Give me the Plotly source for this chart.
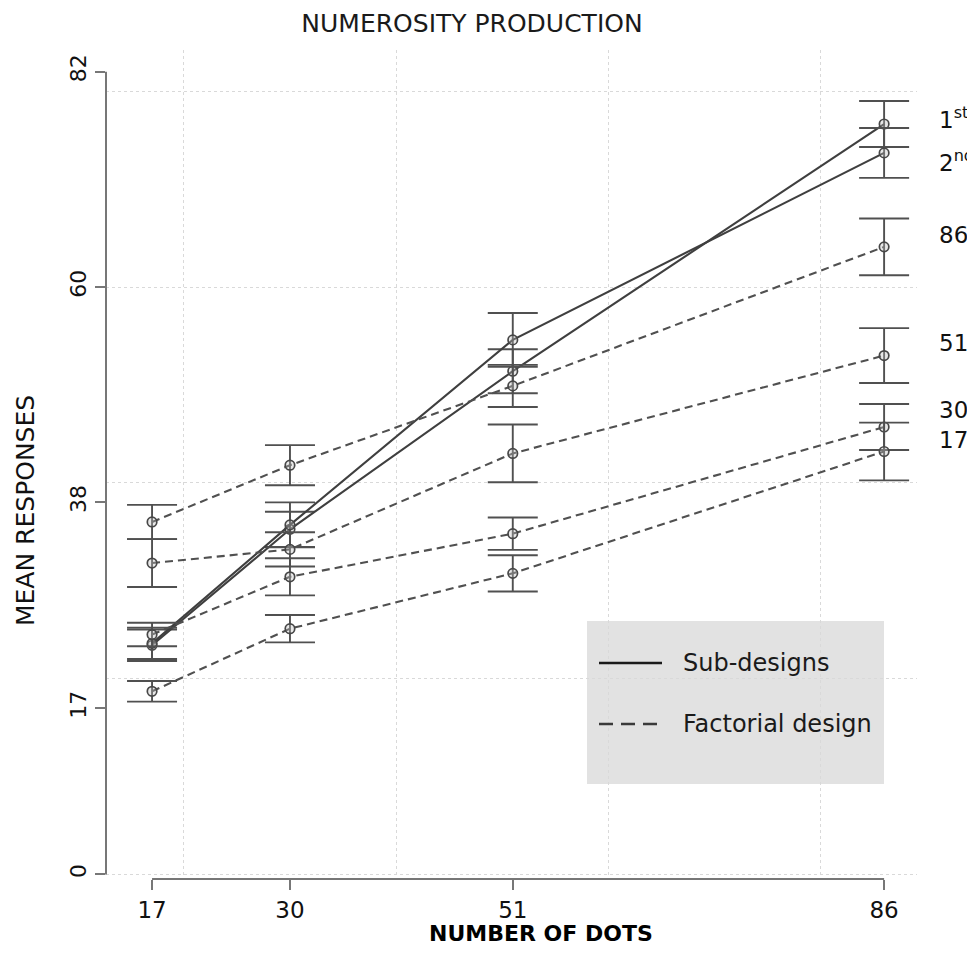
import plotly.graph_objects as go

# ---------------- data ----------------
x_dots = [17, 30, 51, 86]

series_names = ["1st", "2nd", "86", "51", "30", "17"]
series_kind = ["sub", "sub", "fact", "fact", "fact", "fact"]

sub_1st = [23.4, 35.25, 51.4, 76.65]
sub_1st_err = [1.6, 1.8, 2.25, 2.35]
sub_2nd = [23.6, 35.7, 54.6, 73.7]
sub_2nd_err = [1.6, 2.3, 2.75, 2.55]
fact_86 = [36.0, 41.8, 49.9, 64.1]
fact_86_err = [1.75, 2.05, 2.15, 2.9]
fact_51 = [31.8, 33.2, 43.0, 53.0]
fact_51_err = [2.45, 1.75, 2.95, 2.8]
fact_30 = [24.5, 30.4, 34.8, 45.7]
fact_30_err = [1.2, 1.9, 1.65, 2.35]
fact_17 = [18.7, 25.1, 30.75, 43.2]
fact_17_err = [1.05, 1.4, 1.85, 2.95]

series_values = [sub_1st, sub_2nd, fact_86, fact_51, fact_30, fact_17]
series_errors = [sub_1st_err, sub_2nd_err, fact_86_err, fact_51_err, fact_30_err, fact_17_err]

end_labels = ["1<sup>st</sup>", "2<sup>nd</sup>", "86", "51", "30", "17"]
end_label_y = [77.3, 72.9, 65.3, 54.3, 47.4, 44.4]

x_ticks = [17, 30, 51, 86]
y_ticks = [0, 17, 38, 60, 82]
grid_vals_x = [20, 40, 60, 80]
grid_vals_y = [0, 20, 40, 60, 80]

legend_labels = ["Sub-designs", "Factorial design"]

# ---------------- geometry helpers (window pixels -> paper) ----------------
# The page adds an 8px body margin on the left/top, so the figure is offset by 8px.
OFF = 8
W, H = 967, 938
PL, PR, PT, PB = 106, 917, 50, 879        # plot area in window pixels


def px(xw):
    return (xw - PL) / (PR - PL)


def py(yw):
    return (PB - yw) / (PB - PT)


FONT = "DejaVu Sans, Verdana, sans-serif"
LINE_C = "#3f3f3f"
ERR_C = "#505050"

fig = go.Figure()

for name, kind, vals, errs in zip(series_names, series_kind, series_values, series_errors):
    fig.add_trace(go.Scatter(
        x=x_dots, y=vals, name=name, mode="lines+markers",
        line=dict(color=LINE_C if kind == "sub" else "#505050", width=2.1,
                  dash="solid" if kind == "sub" else "8px,5px"),
        marker=dict(symbol="circle", size=9.5, color="rgba(190,190,190,0.35)",
                    line=dict(color="#474747", width=1.7)),
        error_y=dict(type="data", array=errs, symmetric=True, color=ERR_C,
                     thickness=1.9, width=25),
        showlegend=False,
    ))

# end-of-line labels
for txt, yy in zip(end_labels, end_label_y):
    fig.add_annotation(x=px(937), xref="paper", y=yy, yref="y", text=txt,
                       showarrow=False, xanchor="left", yanchor="middle",
                       font=dict(family=FONT, size=23, color="#111"))

# axis lines (Stata style, spanning the tick range only)
fig.add_shape(type="line", xref="paper", yref="y", x0=0, x1=0,
              y0=min(y_ticks), y1=max(y_ticks), line=dict(color="#777", width=2))
fig.add_shape(type="line", xref="x", yref="paper", x0=min(x_ticks), x1=max(x_ticks),
              y0=0, y1=0, line=dict(color="#777", width=2))

# legend box (drawn manually to match the reference's long line samples)
fig.add_shape(type="rect", xref="paper", yref="paper",
              x0=px(587), x1=px(884), y0=py(784), y1=py(621),
              fillcolor="#e2e2e2", line=dict(width=0), layer="below")
legend_y_px = [663, 724]
legend_dash = ["solid", "14px,8px"]
for lab, ypx, dsh in zip(legend_labels, legend_y_px, legend_dash):
    fig.add_shape(type="line", xref="paper", yref="paper",
                  x0=px(599), x1=px(662), y0=py(ypx), y1=py(ypx),
                  line=dict(color="#1a1a1a" if dsh == "solid" else "#3a3a3a", width=2.4, dash=dsh))
    fig.add_annotation(x=px(681), xref="paper", y=py(ypx), yref="paper",
                       text=lab, showarrow=False, xanchor="left", yanchor="middle",
                       font=dict(family=FONT, size=24, color="#1a1a1a"))

# axis titles
fig.add_annotation(x=px(541), xref="paper", y=py(933), yref="paper",
                   text="<b>NUMBER OF DOTS</b>", showarrow=False,
                   xanchor="center", yanchor="middle",
                   font=dict(family=FONT, size=22, color="#000"))
fig.add_annotation(x=px(25), xref="paper", y=py(511), yref="paper",
                   text="MEAN RESPONSES", textangle=-90, showarrow=False,
                   xanchor="center", yanchor="middle",
                   font=dict(family=FONT, size=25, color="#111"))

fig.update_layout(
    width=W, height=H, autosize=False,
    margin=dict(l=PL - OFF, r=W - (PR - OFF), t=PT - OFF, b=H - (PB - OFF)),
    paper_bgcolor="white", plot_bgcolor="white",
    title=dict(text="NUMEROSITY PRODUCTION", x=px(472), xref="paper",
               xanchor="center", y=1 - (23 - OFF) / H, yanchor="middle",
               font=dict(family=FONT, size=25, color="#1a1a1a")),
    font=dict(family=FONT),
)

fig.update_xaxes(
    range=[12.66, 89.1], tickvals=x_ticks, ticktext=[str(v) for v in x_ticks],
    showgrid=False, zeroline=False, showline=False,
    ticks="outside", ticklen=10, tickwidth=1.5, tickcolor="#777",
    tickfont=dict(family=FONT, size=23, color="#111"),
    minor=dict(tickvals=grid_vals_x, showgrid=True, gridcolor="#d9d9d9",
               griddash="dot", gridwidth=1.2, ticks=""),
)
fig.update_yaxes(
    range=[-0.47, 84.21], tickvals=y_ticks, ticktext=[str(v) for v in y_ticks],
    showgrid=False, zeroline=False, showline=False,
    ticks="outside", ticklen=10, tickwidth=1.5, tickcolor="#777", tickangle=-90,
    tickfont=dict(family=FONT, size=22, color="#111"),
    minor=dict(tickvals=grid_vals_y, showgrid=True, gridcolor="#d9d9d9",
               griddash="dot", gridwidth=1.2, ticks=""),
)

fig.write_html("out.html")
